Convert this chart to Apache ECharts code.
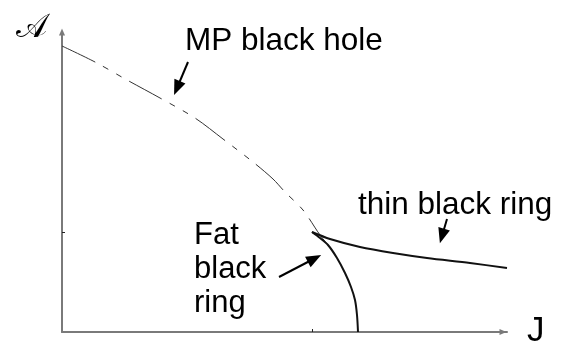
<!DOCTYPE html>
<html>
<head>
<meta charset="utf-8">
<script src="https://cdn.jsdelivr.net/npm/echarts@6/dist/echarts.min.js"></script>
<style>
  html, body { margin: 0; padding: 0; background: #fff; }
  #chart { width: 570px; height: 344px; }
</style>
</head>
<body>
<div id="chart"></div>
<script>
// Myers–Perry black hole branch: area vs angular momentum
const mpJ = [0, 0.132, 0.26, 0.392, 0.532, 0.644, 0.764, 0.844, 0.892, 0.964, 1.032, 1.08];
const mpA = [2.86, 2.70, 2.52, 2.34, 2.14, 1.93, 1.70, 1.53, 1.40, 1.22, 0.97, 0.82];

// Fat black ring branch, from the cusp down to the J axis
const fatJ = [1.0, 1.032, 1.064, 1.10, 1.132, 1.156, 1.172, 1.18, 1.184];
const fatA = [1.0, 0.94, 0.87, 0.74, 0.59, 0.45, 0.32, 0.17, 0.0];

// Thin black ring branch, from the cusp out to large J
const thinJ = [1.0, 1.072, 1.192, 1.324, 1.46, 1.632, 1.78];
const thinA = [1.0, 0.93, 0.85, 0.79, 0.74, 0.69, 0.64];

// Single ticks marking the cusp on each axis
const jTicks = [1];
const aTicks = [1];

// Pointer arrows: [start J, start A, head J, head A]
const pointerMP = [0.504, 2.70, 0.46, 2.44];
const pointerThin = [1.54, 1.13, 1.52, 0.96];
const pointerFat = [0.868, 0.55, 1.01, 0.735];

const pairs = (xs, ys) => xs.map((x, i) => [x, ys[i]]);
const arrow = p => [{ coord: [p[0], p[1]] }, { coord: [p[2], p[3]] }];

const chart = echarts.init(document.getElementById('chart'), null, { renderer: 'canvas' });

const axisColor = '#7a7a7a';
const textFont = '"Liberation Sans", Arial, sans-serif';

chart.setOption({
  animation: false,
  backgroundColor: '#fff',
  grid: { left: 62, top: 32, width: 445, height: 300, containLabel: false },
  xAxis: {
    type: 'value', min: 0, max: 1.78,
    axisLine: { show: true, onZero: false, symbol: ['none', 'triangle'], symbolSize: [6, 7],
      symbolOffset: [0, -4],
      lineStyle: { color: axisColor, width: 2 } },
    axisTick: { show: true, inside: true, length: 3, customValues: jTicks,
      lineStyle: { color: '#222', width: 1 } },
    axisLabel: { show: false },
    splitLine: { show: false }
  },
  yAxis: {
    type: 'value', min: 0, max: 3.0,
    axisLine: { show: true, onZero: false, symbol: ['none', 'triangle'], symbolSize: [6, 7],
      lineStyle: { color: axisColor, width: 2 } },
    axisTick: { show: true, inside: true, length: 3, customValues: aTicks,
      lineStyle: { color: '#222', width: 1 } },
    axisLabel: { show: false },
    splitLine: { show: false }
  },
  series: [
    {
      name: 'MP black hole', type: 'line', data: pairs(mpJ, mpA),
      smooth: 0.3, showSymbol: false, clip: false,
      lineStyle: { color: '#333', width: 1, type: [37, 9, 6, 9, 6, 9] }
    },
    {
      name: 'Fat black ring', type: 'line', data: pairs(fatJ, fatA),
      smooth: 0.3, showSymbol: false, clip: false,
      lineStyle: { color: '#111', width: 2 }
    },
    {
      name: 'thin black ring', type: 'line', data: pairs(thinJ, thinA),
      smooth: 0.3, showSymbol: false, clip: false,
      lineStyle: { color: '#111', width: 2 }
    },
    {
      name: 'pointers', type: 'line', data: [],
      markLine: {
        silent: true, animation: false,
        symbol: ['none', 'triangle'], symbolSize: [12, 15],
        label: { show: false },
        lineStyle: { color: '#000', width: 2, type: 'solid' },
        itemStyle: { color: '#000' },
        data: [arrow(pointerMP), arrow(pointerThin), arrow(pointerFat)]
      }
    }
  ],
  graphic: [
    { type: 'text', left: 16, top: 12, style: { text: '𝒜', font: '33px "DejaVu Serif", "DejaVu Sans", serif', fill: '#000' } },
    { type: 'text', x: 185, y: 41, style: { text: 'MP black hole', font: '31.5px ' + textFont, fill: '#000', verticalAlign: 'middle' } },
    { type: 'text', x: 358, y: 205, style: { text: 'thin black ring', font: '31.5px ' + textFont, fill: '#000', verticalAlign: 'middle' } },
    { type: 'text', x: 194, y: 235, style: { text: 'Fat', font: '31px ' + textFont, fill: '#000', verticalAlign: 'middle' } },
    { type: 'text', x: 194, y: 269, style: { text: 'black', font: '31px ' + textFont, fill: '#000', verticalAlign: 'middle' } },
    { type: 'text', x: 194, y: 303, style: { text: 'ring', font: '31px ' + textFont, fill: '#000', verticalAlign: 'middle' } },
    { type: 'text', x: 527, y: 331, style: { text: 'J', font: '35px ' + textFont, fill: '#000', verticalAlign: 'middle' } }
  ]
});
</script>
</body>
</html>
